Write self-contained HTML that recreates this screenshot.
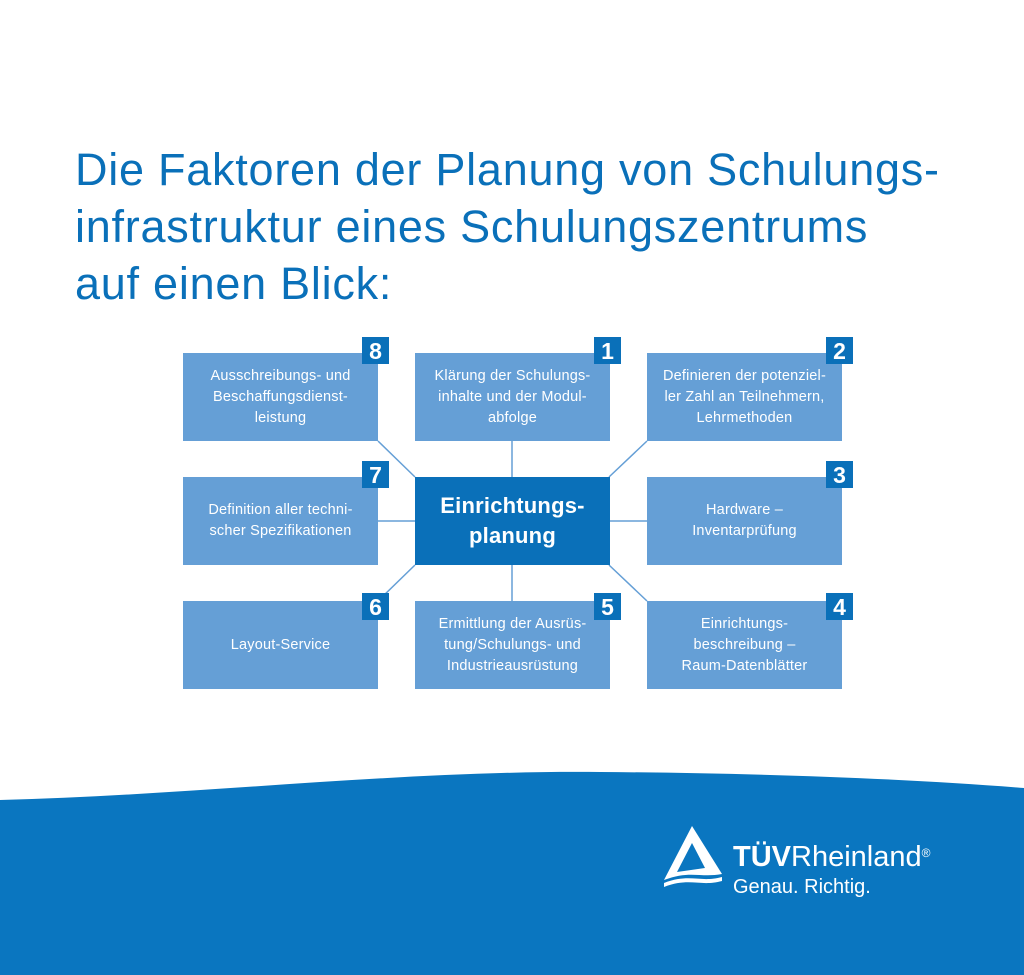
<!DOCTYPE html>
<html><head><meta charset="utf-8"><style>
body{margin:0;width:1024px;height:975px;position:relative;background:#fff;font-family:"Liberation Sans",sans-serif;overflow:hidden}
h1{position:absolute;left:75px;top:141px;margin:0;font-weight:normal;font-size:45px;line-height:57px;color:#0a70b9;letter-spacing:0.75px}
.b{position:absolute;width:195px;height:88px;background:#659fd6;color:#fff;font-size:14.5px;line-height:21px;display:flex;align-items:center;justify-content:center;text-align:center;letter-spacing:0.2px}
.n{position:absolute;width:27px;height:27px;background:#0a70b9;color:#fff;font-weight:bold;font-size:23px;line-height:28px;text-align:center}
.c{background:#0a70b9;font-weight:bold;font-size:22px;line-height:30px}
</style></head><body>
<h1>Die Faktoren der Planung von Schulungs-<br>infrastruktur eines Schulungszentrums<br>auf einen Blick:</h1>
<svg style="position:absolute;left:0;top:0" width="1024" height="975">
<g stroke="#659fd6" stroke-width="1.5">
<line x1="512" y1="441" x2="512" y2="477"/><line x1="512" y1="565" x2="512" y2="601"/>
<line x1="378" y1="521" x2="415" y2="521"/><line x1="609" y1="521" x2="647" y2="521"/>
<line x1="378" y1="441" x2="415" y2="477"/><line x1="647" y1="441" x2="609" y2="477"/>
<line x1="378" y1="601" x2="415" y2="565"/><line x1="647" y1="601" x2="609" y2="565"/>
</g>
<path d="M0 800 C200 795 400 770 600 772 C750 773 900 778 1024 788 L1024 975 L0 975Z" fill="#0a76c0"/>
<path d="M692 826 L664 880 C690 870 700 878 722 874 Z M692 843 L677 872 L705 868 Z" fill="#fff" fill-rule="evenodd"/>
<path d="M664 883 C690 873 700 883 722 877 L722 881 C700 887 690 877 664 887Z" fill="#fff"/>
</svg>
<div class="b" style="left:183px;top:353px">Ausschreibungs- und<br>Beschaffungsdienst-<br>leistung</div>
<div class="b" style="left:415px;top:353px">Klärung der Schulungs-<br>inhalte und der Modul-<br>abfolge</div>
<div class="b" style="left:647px;top:353px">Definieren der potenziel-<br>ler Zahl an Teilnehmern,<br>Lehrmethoden</div>
<div class="b" style="left:183px;top:477px">Definition aller techni-<br>scher Spezifikationen</div>
<div class="b c" style="left:415px;top:477px">Einrichtungs-<br>planung</div>
<div class="b" style="left:647px;top:477px">Hardware –<br>Inventarprüfung</div>
<div class="b" style="left:183px;top:601px">Layout-Service</div>
<div class="b" style="left:415px;top:601px">Ermittlung der Ausrüs-<br>tung/Schulungs- und<br>Industrieausrüstung</div>
<div class="b" style="left:647px;top:601px">Einrichtungs-<br>beschreibung –<br>Raum-Datenblätter</div>
<div class="n" style="left:362px;top:337px">8</div>
<div class="n" style="left:594px;top:337px">1</div>
<div class="n" style="left:826px;top:337px">2</div>
<div class="n" style="left:362px;top:461px">7</div>
<div class="n" style="left:826px;top:461px">3</div>
<div class="n" style="left:362px;top:593px">6</div>
<div class="n" style="left:594px;top:593px">5</div>
<div class="n" style="left:826px;top:593px">4</div>
<div style="position:absolute;left:733px;top:842px;color:#fff;font-size:29px;line-height:30px"><b>TÜV</b>Rheinland<sup style="font-size:12px;vertical-align:top;position:relative;top:-4px">®</sup></div>
<div style="position:absolute;left:733px;top:876px;color:#fff;font-size:20px">Genau. Richtig.</div>
</body></html>
